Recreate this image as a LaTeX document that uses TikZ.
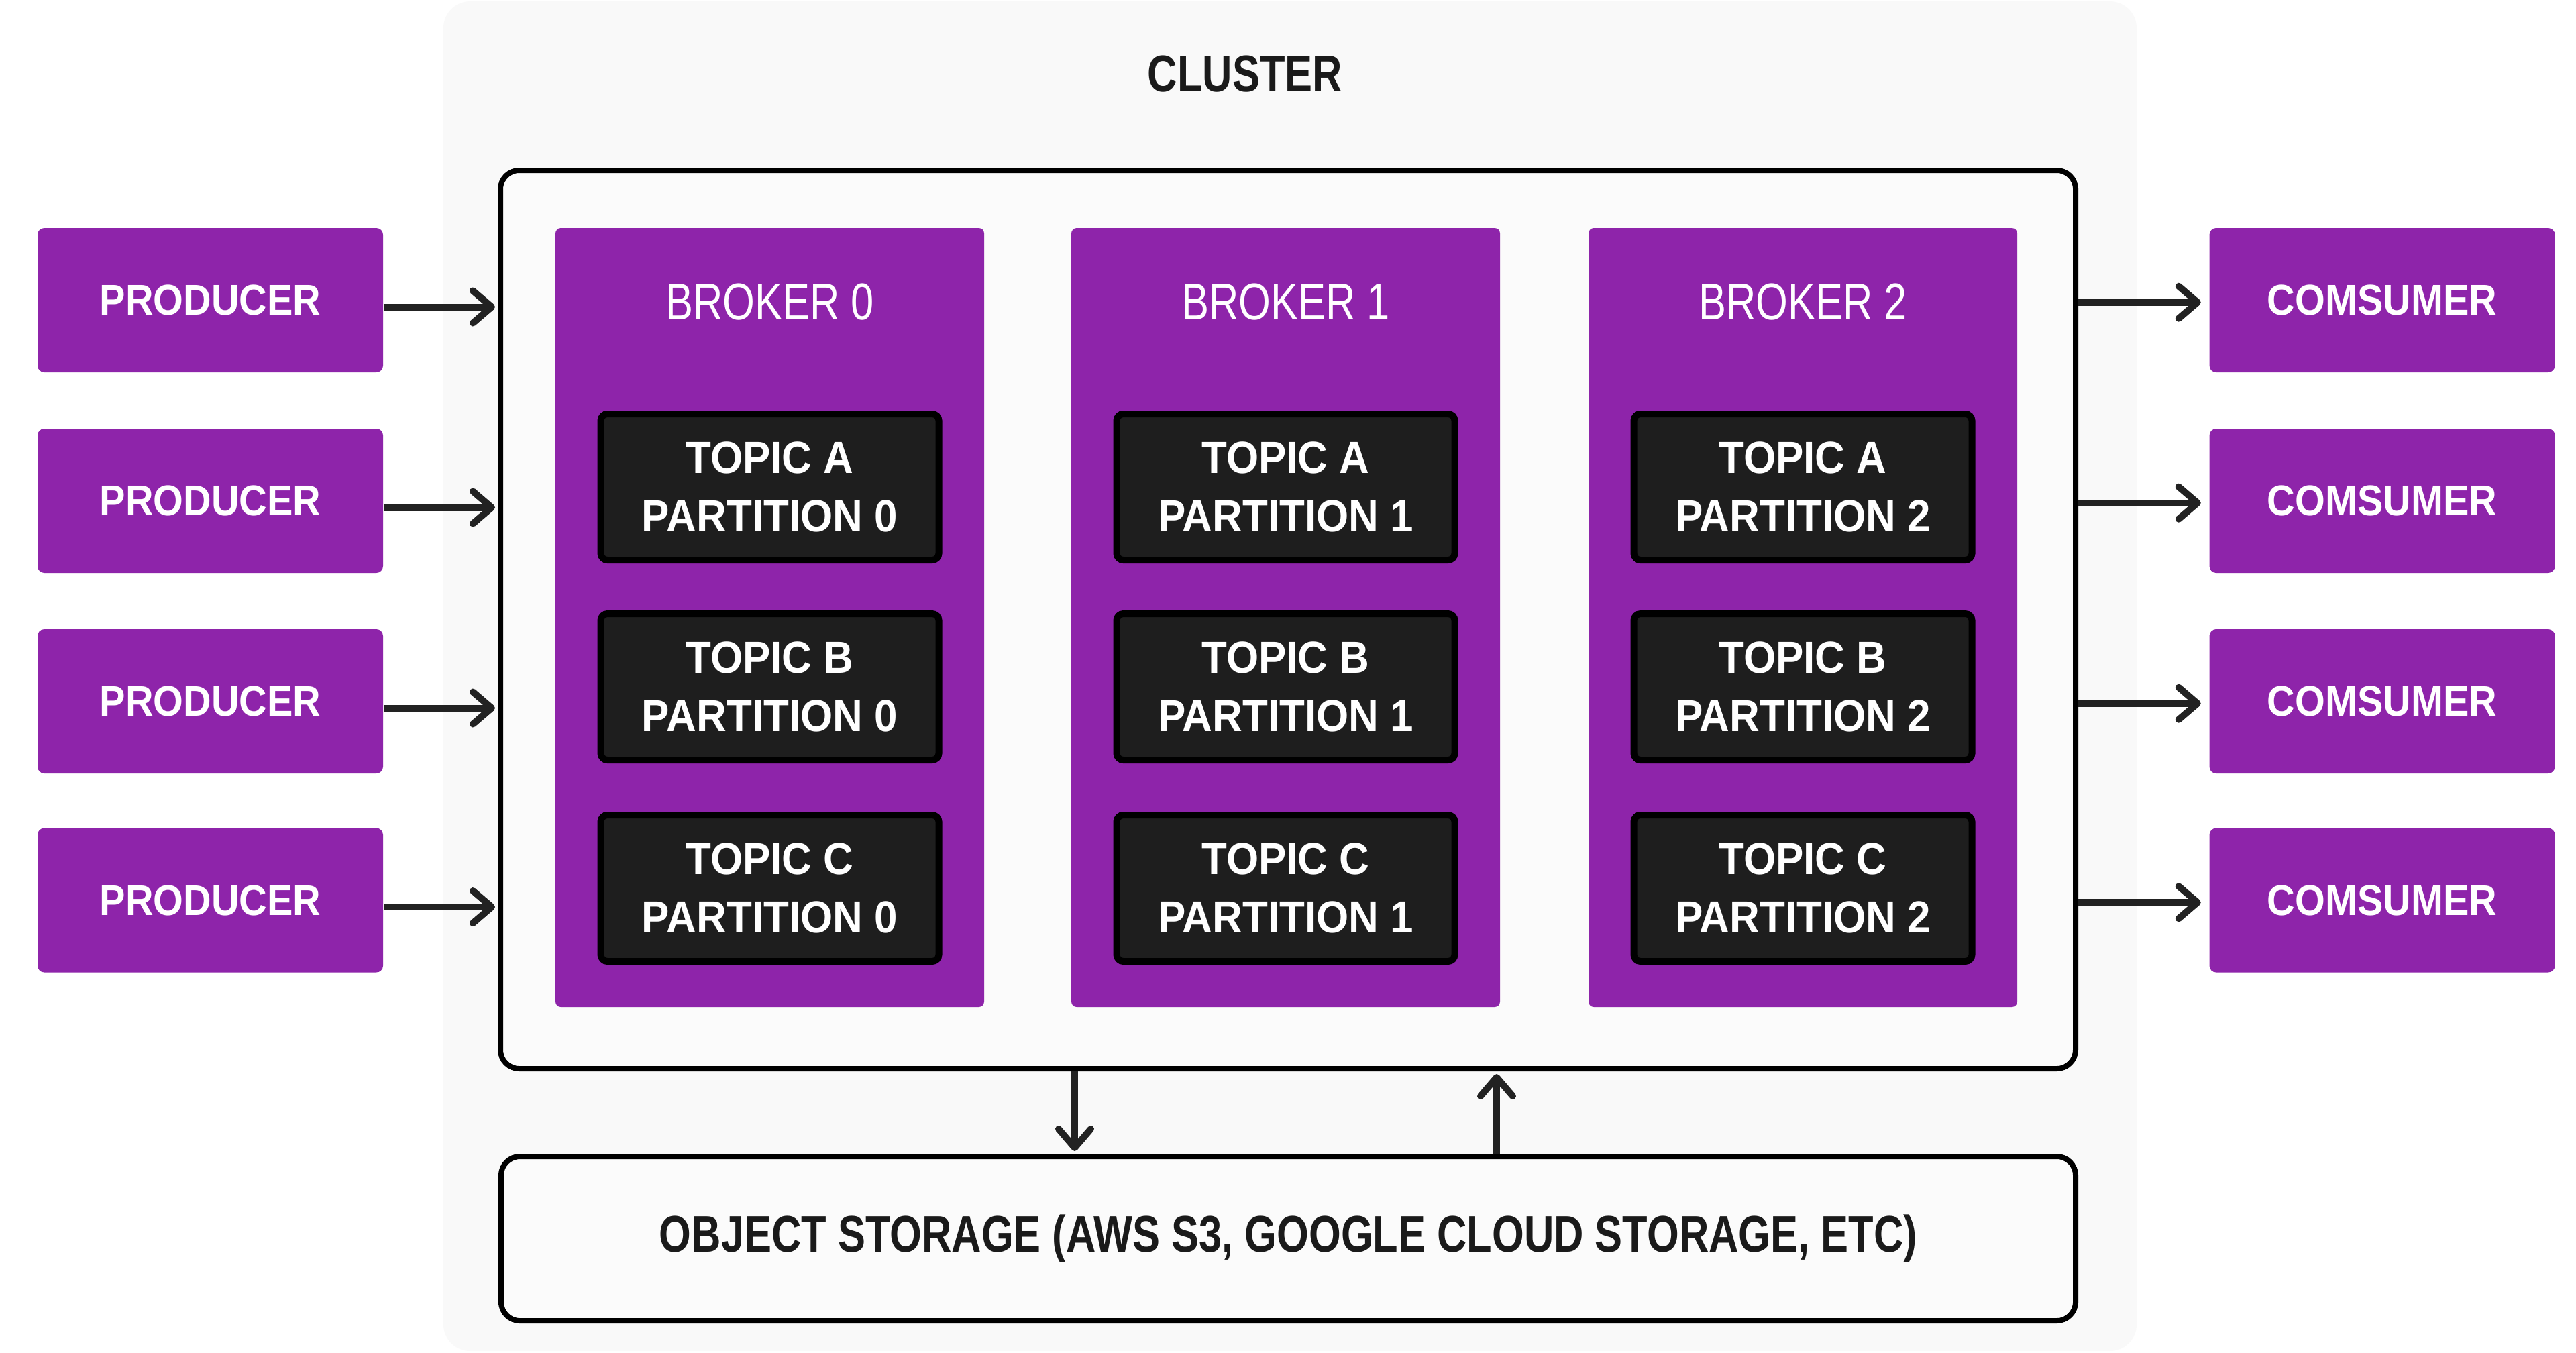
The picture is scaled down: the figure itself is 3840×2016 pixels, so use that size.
\documentclass[tikz,border=0pt]{standalone}
\usepackage{fontspec}
\usetikzlibrary{arrows.meta}
\newfontfamily\bfontfam[FakeStretch=0.9]{Liberation Sans}
\newfontfamily\tfontfam[FakeStretch=0.925]{Liberation Sans}
\newfontfamily\cfontfam[FakeStretch=0.8]{Liberation Sans}
\definecolor{kpurple}{HTML}{8E24AA}
\definecolor{ktopic}{HTML}{1E1E1E}
\definecolor{kbg}{HTML}{F9F9F9}
\definecolor{kbox}{HTML}{FBFBFB}
\definecolor{kink}{HTML}{1A1A1A}
\definecolor{karrow}{HTML}{222222}
\tikzset{
  prodbox/.style={rectangle, fill=kpurple, rounded corners=2.5pt, minimum width=128.75pt, minimum height=53.75pt, inner sep=0pt, text=white, font=\bfontfam\bfseries\fontsize{16}{19}\selectfont},
  brokerbox/.style={rectangle, fill=kpurple, rounded corners=2pt, minimum width=159.75pt, minimum height=290.25pt, inner sep=0pt},
  brokertitle/.style={text=white, inner sep=0pt, font=\cfontfam\fontsize{19.2}{22}\selectfont},
  topicbox/.style={rectangle, fill=ktopic, draw=black, line width=2.5pt, rounded corners=2.5pt, minimum width=126pt, minimum height=54.5pt, inner sep=0pt, text=white, align=center, font=\tfontfam\bfseries\fontsize{16.75}{21.75}\selectfont},
  bigbox/.style={rectangle, fill=kbox, draw=black, line width=2pt, rounded corners=7pt, inner sep=0pt},
  arr/.style={draw=karrow, line width=2.5pt, -{Straight Barb[length=7pt,width=12pt,round]}},
}
\begin{document}
\begin{tikzpicture}[x=0.25pt,y=-0.25pt]
\useasboundingbox (0,0) rectangle (3840,2016);
\fill[white] (0,0) rectangle (3840,2016);
% cluster background
\fill[kbg, rounded corners=10pt] (661,2) rectangle (3185,2014);
\node[text=kink, inner sep=0pt, font=\cfontfam\bfseries\fontsize{19.2}{22}\selectfont] (ctitle) at (1856,110) {CLUSTER};
% cluster box
\node[bigbox, minimum width=587pt, minimum height=334.75pt] (cbox) at (1920,923.5) {};
% storage
\node[bigbox, minimum width=586.75pt, minimum height=61.25pt, text=kink, font=\cfontfam\bfseries\fontsize{19.2}{22}\selectfont] (store) at (1920.5,1846.5) {OBJECT STORAGE (AWS S3, GOOGLE CLOUD STORAGE, ETC)};
% brokers
\foreach \i/\x in {0/1147.5,1/1916.5,2/2687.5}{
  \node[brokerbox] (b\i) at (\x,920.5) {};
  \node[brokertitle] (bt\i) at (\x,450) {BROKER \i};
  \node[topicbox] (ta\i) at (\x,726) {TOPIC A\\PARTITION \i};
  \node[topicbox] (tb\i) at (\x,1024) {TOPIC B\\PARTITION \i};
  \node[topicbox] (tc\i) at (\x,1324) {TOPIC C\\PARTITION \i};
}
% producers and consumers
\foreach \k/\y in {1/447.5,2/746.5,3/1045.5,4/1342}{
  \node[prodbox] (p\k) at (313.5,\y) {PRODUCER};
  \node[prodbox] (c\k) at (3551,\y) {COMSUMER};
  \draw[arr, shorten >=1pt] ([yshift=-2.5pt]p\k.east) -- ([yshift=-2.5pt]p\k.east -| cbox.west);
  \draw[arr, shorten >=3pt] ([yshift=-0.8pt]c\k.west -| cbox.east) -- ([yshift=-0.8pt]c\k.west);
}
% storage arrows
\coordinate (dx) at (1602,0);
\coordinate (ux) at (2231,0);
\draw[arr, shorten >=1pt] (dx |- cbox.south) -- (dx |- store.north);
\draw[arr, shorten >=1pt] (ux |- store.north) -- (ux |- cbox.south);
\end{tikzpicture}
\end{document}
